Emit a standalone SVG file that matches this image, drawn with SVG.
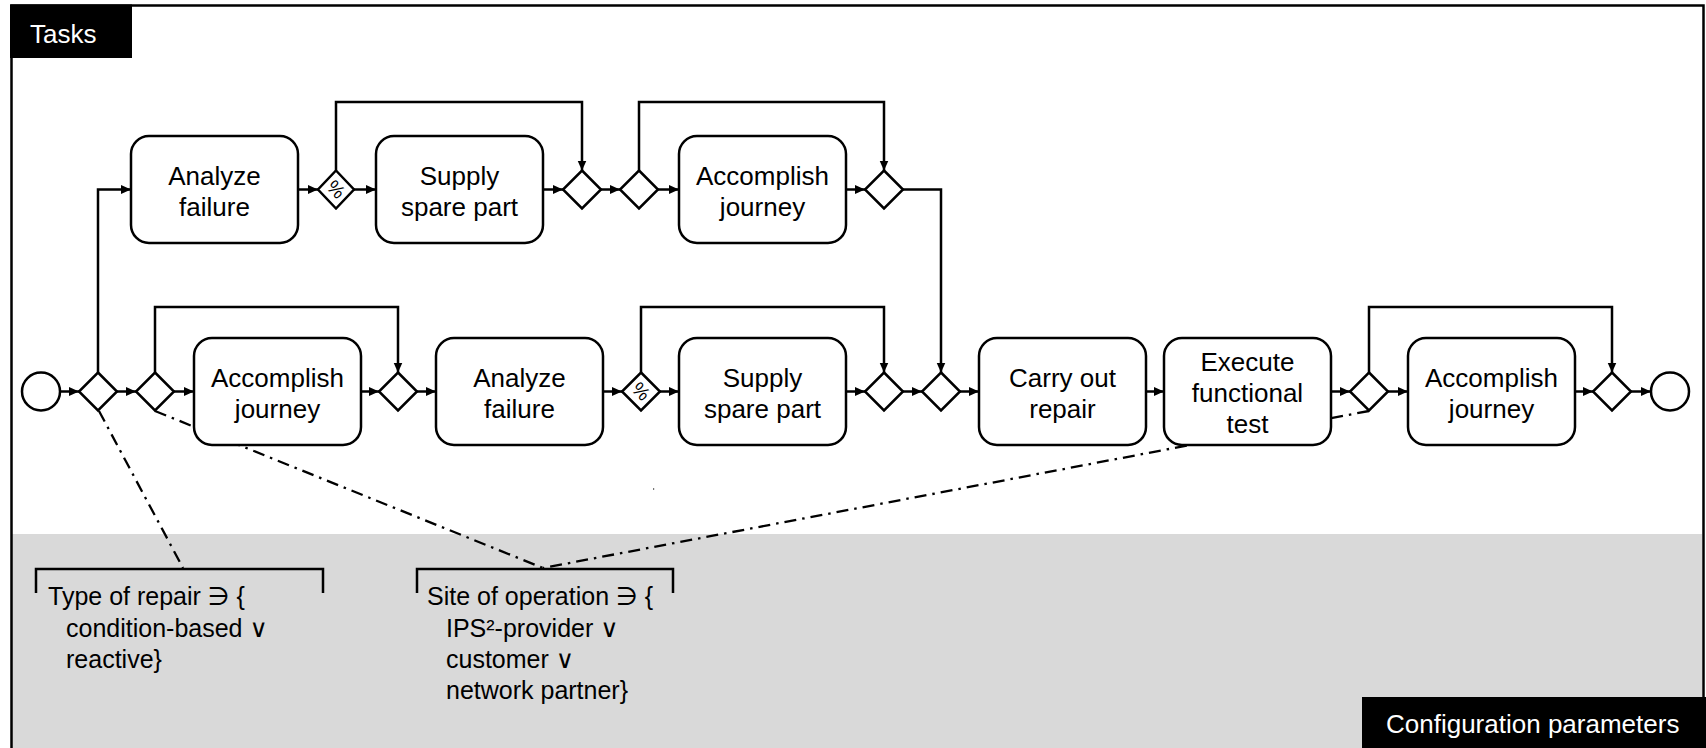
<svg xmlns="http://www.w3.org/2000/svg" width="1706" height="748" viewBox="0 0 1706 748">
<defs>
<marker id="arr" markerUnits="userSpaceOnUse" markerWidth="10" markerHeight="10" refX="10" refY="5" orient="auto"><path d="M0,0.5 L10,5 L0,9.5 z" fill="#000"/></marker>
<style>
.box{fill:#fff;stroke:#000;stroke-width:2.5}
.gw{fill:#fff;stroke:#000;stroke-width:2.5}
.c{fill:none;stroke:#000;stroke-width:2.5;marker-end:url(#arr)}
.dd{fill:none;stroke:#000;stroke-width:2.3;stroke-dasharray:12 6 2.5 6}
.br{fill:none;stroke:#000;stroke-width:2.5}
.t{font-family:'Liberation Sans',Arial,sans-serif;font-size:26px;fill:#000;text-anchor:middle}
.p{font-family:'Liberation Sans',Arial,'DejaVu Sans',sans-serif;font-size:25px;fill:#000}
.lbl{font-family:'Liberation Sans',Arial,sans-serif;font-size:26px;fill:#fff}
.pct{font-family:'Liberation Sans',Arial,sans-serif;font-size:19px;fill:#000;text-anchor:middle}
</style>
</defs>
<rect x="0" y="0" width="1706" height="748" fill="#fff"/>
<rect x="12" y="534" width="1690" height="214" fill="#d9d9d9"/>
<path d="M11.5,748 V5.5 H1703.5 V748" fill="none" stroke="#000" stroke-width="2.5"/>
<g id="label-tasks"><rect x="10" y="4.5" width="122" height="53.5" fill="#000"/><text class="lbl" x="30" y="43">Tasks</text></g>
<g id="label-config"><rect x="1362" y="697" width="344" height="51" fill="#000"/><text class="lbl" x="1386" y="733">Configuration parameters</text></g>

<g id="annotations">
<path class="dd" d="M99,411 L183,568"/>
<path class="dd" d="M155,411 L543,568"/>
<path class="dd" d="M1369,411 L543,568"/>
<rect x="653" y="488" width="1.2" height="2" fill="#777"/>
</g>

<g id="connectors">
<path class="c" d="M60,391.5 H79"/>
<path class="c" d="M117,391.5 H136"/>
<path class="c" d="M174,391.5 H194"/>
<path class="c" d="M361,391.5 H379"/>
<path class="c" d="M417,391.5 H436"/>
<path class="c" d="M603,391.5 H622"/>
<path class="c" d="M660,391.5 H679"/>
<path class="c" d="M846,391.5 H865"/>
<path class="c" d="M903,391.5 H922"/>
<path class="c" d="M960,391.5 H979"/>
<path class="c" d="M1146,391.5 H1164"/>
<path class="c" d="M1331,391.5 H1350"/>
<path class="c" d="M1388,391.5 H1408"/>
<path class="c" d="M1575,391.5 H1593"/>
<path class="c" d="M1631,391.5 H1651"/>
<path class="c" d="M98,372.5 V189.5 H131"/>
<path class="c" d="M298,189.5 H318"/>
<path class="c" d="M354,189.5 H376"/>
<path class="c" d="M543,189.5 H563"/>
<path class="c" d="M601,189.5 H620"/>
<path class="c" d="M658,189.5 H679"/>
<path class="c" d="M846,189.5 H865"/>
<path class="c" d="M903,189.5 H941 V372.5"/>
<path class="c" d="M336,170.5 V102 H582 V170.5"/>
<path class="c" d="M639,170.5 V102 H884 V170.5"/>
<path class="c" d="M155,372.5 V307 H398 V372.5"/>
<path class="c" d="M641,372.5 V307 H884 V372.5"/>
<path class="c" d="M1369,372.5 V307 H1612 V372.5"/>
</g>

<g id="start"><circle cx="41" cy="391.5" r="19" class="gw"/></g>
<g id="end"><circle cx="1670" cy="391.5" r="19" class="gw"/></g>

<g id="gw-b1"><path class="gw" d="M98,372.5 L117,391.5 L98,410.5 L79,391.5 z"/></g>
<g id="gw-b2"><path class="gw" d="M155,372.5 L174,391.5 L155,410.5 L136,391.5 z"/></g>
<g id="gw-b3"><path class="gw" d="M398,372.5 L417,391.5 L398,410.5 L379,391.5 z"/></g>
<g id="gw-b4"><path class="gw" d="M641,372.5 L660,391.5 L641,410.5 L622,391.5 z"/><text class="pct" x="641" y="398" transform="rotate(45 641 391.5)">%</text></g>
<g id="gw-b5"><path class="gw" d="M884,372.5 L903,391.5 L884,410.5 L865,391.5 z"/></g>
<g id="gw-b6"><path class="gw" d="M941,372.5 L960,391.5 L941,410.5 L922,391.5 z"/></g>
<g id="gw-b7"><path class="gw" d="M1369,372.5 L1388,391.5 L1369,410.5 L1350,391.5 z"/></g>
<g id="gw-b8"><path class="gw" d="M1612,372.5 L1631,391.5 L1612,410.5 L1593,391.5 z"/></g>

<g id="gw-t1"><path class="gw" d="M336,170.5 L354,189.5 L336,208.5 L318,189.5 z"/><text class="pct" x="336" y="196" transform="rotate(45 336 189.5)">%</text></g>
<g id="gw-t2"><path class="gw" d="M582,170.5 L601,189.5 L582,208.5 L563,189.5 z"/></g>
<g id="gw-t3"><path class="gw" d="M639,170.5 L658,189.5 L639,208.5 L620,189.5 z"/></g>
<g id="gw-t4"><path class="gw" d="M884,170.5 L903,189.5 L884,208.5 L865,189.5 z"/></g>

<g id="t-analyze"><rect class="box" x="131" y="136" width="167" height="107" rx="18"/><text class="t" x="214.5" y="185">Analyze</text><text class="t" x="214.5" y="216">failure</text></g>
<g id="t-supply"><rect class="box" x="376" y="136" width="167" height="107" rx="18"/><text class="t" x="459.5" y="185">Supply</text><text class="t" x="459.5" y="216">spare part</text></g>
<g id="t-journey"><rect class="box" x="679" y="136" width="167" height="107" rx="18"/><text class="t" x="762.5" y="185">Accomplish</text><text class="t" x="762.5" y="216">journey</text></g>

<g id="b-journey1"><rect class="box" x="194" y="338" width="167" height="107" rx="18"/><text class="t" x="277.5" y="387">Accomplish</text><text class="t" x="277.5" y="418">journey</text></g>
<g id="b-analyze"><rect class="box" x="436" y="338" width="167" height="107" rx="18"/><text class="t" x="519.5" y="387">Analyze</text><text class="t" x="519.5" y="418">failure</text></g>
<g id="b-supply"><rect class="box" x="679" y="338" width="167" height="107" rx="18"/><text class="t" x="762.5" y="387">Supply</text><text class="t" x="762.5" y="418">spare part</text></g>
<g id="b-repair"><rect class="box" x="979" y="338" width="167" height="107" rx="18"/><text class="t" x="1062.5" y="387">Carry out</text><text class="t" x="1062.5" y="418">repair</text></g>
<g id="b-test"><rect class="box" x="1164" y="338" width="167" height="107" rx="18"/><text class="t" x="1247.5" y="371">Execute</text><text class="t" x="1247.5" y="402">functional</text><text class="t" x="1247.5" y="433">test</text></g>
<g id="b-journey2"><rect class="box" x="1408" y="338" width="167" height="107" rx="18"/><text class="t" x="1491.5" y="387">Accomplish</text><text class="t" x="1491.5" y="418">journey</text></g>

<g id="param-repair">
<path class="br" d="M36,593 V569 H323 V593"/>
<text class="p" x="48" y="605">Type of repair ∋ {</text>
<text class="p" x="66" y="637">condition-based ∨</text>
<text class="p" x="66" y="668">reactive}</text>
</g>
<g id="param-site">
<path class="br" d="M417,593 V569 H673 V593"/>
<text class="p" x="427" y="605">Site of operation ∋ {</text>
<text class="p" x="446" y="637">IPS²-provider ∨</text>
<text class="p" x="446" y="668">customer ∨</text>
<text class="p" x="446" y="699">network partner}</text>
</g>
</svg>
